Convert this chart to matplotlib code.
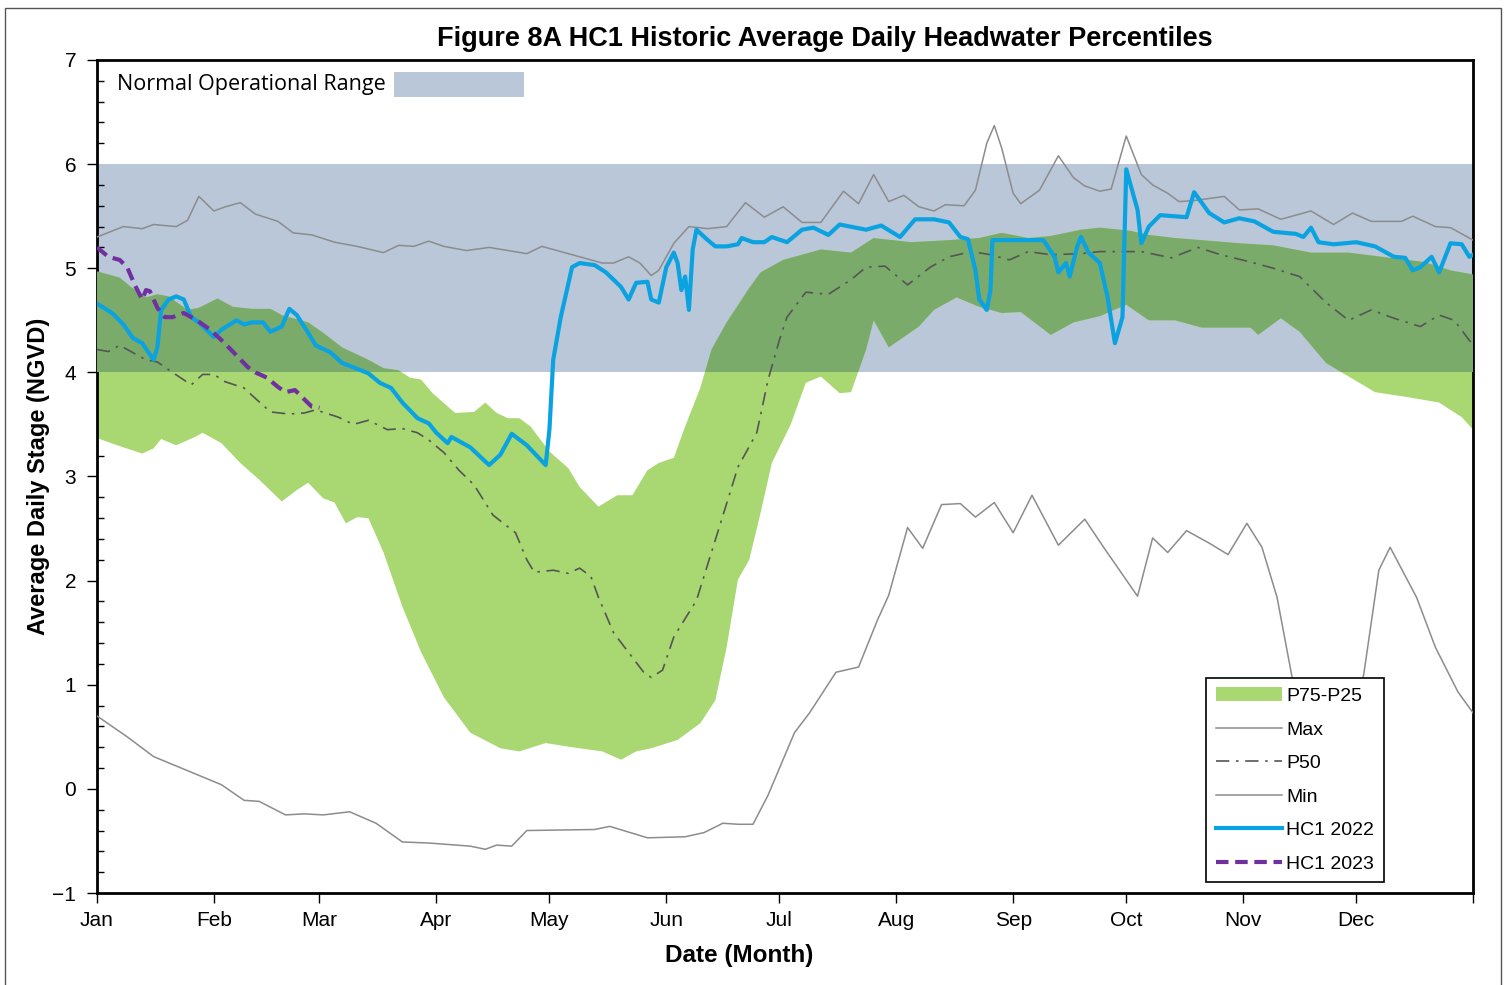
import numpy as np
import matplotlib
matplotlib.use("Agg")
import matplotlib.pyplot as plt
from matplotlib.patches import Rectangle
from matplotlib.ticker import MultipleLocator

plt.rcParams['font.family'] = ['Liberation Sans', 'DejaVu Sans']

# day of year -> stage (NGVD)
max_day = [0, 7, 12, 15, 21, 24, 27, 31, 34, 38, 42, 48, 52, 57, 63, 69, 76, 80, 84, 88, 92, 98, 104,
           114, 118, 123, 134, 137, 141, 144, 147, 149, 153, 157, 162, 167, 172, 177, 182, 187, 192,
           198, 202, 206, 210, 214, 218, 222, 225, 230, 233, 236, 238, 240, 243, 245, 250, 255, 259,
           262, 266, 269, 273, 277, 280, 284, 287, 291, 299, 303, 308, 314, 322, 328, 333, 338, 346,
           349, 355, 359, 365]
max_val = [5.30, 5.40, 5.38, 5.42, 5.40, 5.46, 5.69, 5.55, 5.59, 5.63, 5.52, 5.45, 5.34, 5.32, 5.25,
           5.21, 5.15, 5.22, 5.21, 5.26, 5.21, 5.17, 5.20, 5.14, 5.21, 5.16, 5.05, 5.05, 5.11, 5.05,
           4.93, 4.98, 5.24, 5.40, 5.38, 5.40, 5.63, 5.49, 5.59, 5.44, 5.44, 5.74, 5.62, 5.90, 5.64,
           5.70, 5.59, 5.55, 5.61, 5.60, 5.75, 6.20, 6.37, 6.15, 5.72, 5.62, 5.75, 6.08, 5.87, 5.79,
           5.74, 5.76, 6.27, 5.90, 5.80, 5.72, 5.64, 5.65, 5.69, 5.56, 5.57, 5.47, 5.55, 5.42, 5.53,
           5.45, 5.45, 5.50, 5.40, 5.39, 5.27]

min_day = [0, 8, 15, 27, 33, 39, 43, 50, 55, 60, 67, 74, 81, 88, 99, 103, 106, 110, 114, 132, 136,
           146, 156, 161, 166, 170, 174, 178, 185, 189, 196, 202, 207, 210, 215, 219, 224, 229, 233,
           238, 243, 248, 255, 262, 267, 276, 280, 284, 289, 295, 300, 305, 309, 313, 317, 322, 328,
           333, 336, 340, 343, 350, 355, 361, 365]
min_val = [0.70, 0.50, 0.31, 0.13, 0.04, -0.11, -0.12, -0.25, -0.24, -0.25, -0.22, -0.33, -0.51,
           -0.52, -0.55, -0.58, -0.54, -0.55, -0.40, -0.39, -0.36, -0.47, -0.46, -0.42, -0.33, -0.34,
           -0.34, -0.06, 0.54, 0.73, 1.12, 1.17, 1.62, 1.86, 2.51, 2.31, 2.73, 2.74, 2.61, 2.75, 2.46,
           2.82, 2.34, 2.59, 2.32, 1.85, 2.41, 2.27, 2.48, 2.36, 2.25, 2.55, 2.32, 1.84, 1.07, 0.60,
           0.40, 0.60, 1.10, 2.10, 2.32, 1.84, 1.36, 0.93, 0.73]

p75_day = [0, 6, 9, 13, 16, 19, 24, 27, 32, 36, 41, 46, 49, 56, 60, 65, 72, 76, 80, 83, 86, 89, 95,
           100, 103, 106, 109, 112, 115, 120, 125, 128, 133, 138, 142, 146, 149, 153, 156, 160, 163,
           167, 173, 176, 182, 192, 200, 206, 216, 226, 234, 240, 247, 253, 261, 266, 274, 279, 286,
           293, 303, 312, 322, 332, 343, 352, 359, 365]
p75_val = [4.97, 4.91, 4.82, 4.72, 4.75, 4.73, 4.60, 4.62, 4.71, 4.63, 4.61, 4.61, 4.55, 4.48, 4.38,
           4.24, 4.12, 4.04, 4.02, 3.95, 3.93, 3.80, 3.61, 3.62, 3.71, 3.61, 3.56, 3.56, 3.48, 3.24,
           3.08, 2.90, 2.71, 2.82, 2.82, 3.06, 3.13, 3.18, 3.48, 3.85, 4.22, 4.48, 4.81, 4.96, 5.08,
           5.18, 5.15, 5.29, 5.25, 5.27, 5.29, 5.34, 5.29, 5.31, 5.37, 5.39, 5.36, 5.32, 5.29, 5.27,
           5.24, 5.22, 5.15, 5.15, 5.10, 5.06, 4.98, 4.94]

p25_day = [0, 3, 7, 12, 15, 17, 21, 26, 28, 33, 38, 43, 49, 53, 56, 60, 63, 66, 69, 72, 76, 81, 86,
           92, 99, 107, 112, 119, 126, 134, 139, 143, 147, 154, 160, 164, 167, 170, 173, 176, 179,
           184, 188, 192, 197, 200, 204, 206, 210, 214, 218, 222, 228, 234, 240, 245, 253, 259, 266,
           273, 279, 286, 293, 301, 306, 308, 314, 319, 326, 332, 339, 348, 356, 362, 365]
p25_val = [3.37, 3.33, 3.28, 3.22, 3.27, 3.36, 3.30, 3.38, 3.42, 3.32, 3.13, 2.97, 2.76, 2.87, 2.94,
           2.79, 2.75, 2.55, 2.61, 2.60, 2.27, 1.75, 1.31, 0.88, 0.54, 0.39, 0.36, 0.44, 0.40, 0.36,
           0.28, 0.36, 0.39, 0.47, 0.63, 0.85, 1.36, 2.01, 2.20, 2.65, 3.13, 3.50, 3.90, 3.96, 3.80,
           3.81, 4.22, 4.50, 4.24, 4.34, 4.44, 4.60, 4.72, 4.63, 4.57, 4.58, 4.36, 4.48, 4.54, 4.65,
           4.50, 4.50, 4.43, 4.43, 4.43, 4.36, 4.52, 4.39, 4.09, 3.96, 3.81, 3.76, 3.71, 3.57, 3.45]

p50_day = [0, 3, 6, 9, 13, 16, 20, 25, 28, 31, 34, 39, 42, 46, 51, 55, 58, 64, 68, 72, 77, 81, 85,
           88, 92, 96, 100, 105, 111, 114, 116, 121, 125, 128, 131, 133, 137, 141, 145, 147, 150, 153,
           159, 164, 170, 175, 178, 181, 183, 188, 194, 200, 204, 209, 215, 221, 226, 232, 237, 242,
           247, 253, 261, 266, 277, 285, 292, 298, 306, 312, 319, 326, 332, 338, 344, 351, 356, 360,
           365]
p50_val = [4.22, 4.20, 4.26, 4.20, 4.12, 4.10, 4.00, 3.88, 3.98, 3.98, 3.91, 3.85, 3.75, 3.62, 3.60,
           3.61, 3.64, 3.57, 3.50, 3.54, 3.45, 3.46, 3.42, 3.35, 3.23, 3.06, 2.92, 2.63, 2.46, 2.20,
           2.08, 2.10, 2.07, 2.12, 2.04, 1.84, 1.50, 1.31, 1.12, 1.07, 1.14, 1.46, 1.81, 2.39, 3.09,
           3.42, 3.93, 4.31, 4.53, 4.77, 4.75, 4.89, 5.01, 5.02, 4.84, 5.01, 5.11, 5.16, 5.13, 5.08,
           5.16, 5.13, 5.14, 5.16, 5.16, 5.10, 5.20, 5.13, 5.06, 5.00, 4.92, 4.67, 4.50, 4.60, 4.52,
           4.44, 4.55, 4.50, 4.26]

hc22_day = [0, 4, 7, 9.5, 12, 15, 16, 17, 19, 21, 23, 25, 27, 31, 33, 37, 39, 41, 44, 46, 49, 51,
            53, 56, 58, 62, 65, 70, 72, 75, 78, 81, 85, 88, 90, 93, 94, 99, 104, 107, 110, 114, 119,
            120, 121, 123, 126, 128, 132, 135, 139, 141, 143, 146, 147, 149, 151, 153, 154, 155, 156,
            157, 158, 159, 162, 164, 167, 170, 171, 174, 177, 179, 183, 187, 190, 194, 197, 204, 208,
            213, 217, 222, 226, 229, 231, 233, 234, 236, 237, 237.5, 242, 247, 251, 254, 255, 257,
            258, 260, 261, 263, 266, 268, 270, 272, 273, 276, 277, 279, 282, 289, 291, 295, 299, 303,
            307, 312, 318, 320, 322, 324, 328, 334, 339, 344, 347, 349, 351, 354, 356, 359, 362, 364,
            365]
hc22_val = [4.66, 4.57, 4.46, 4.33, 4.28, 4.12, 4.24, 4.60, 4.70, 4.73, 4.70, 4.53, 4.48, 4.34, 4.41,
            4.50, 4.46, 4.48, 4.48, 4.39, 4.44, 4.61, 4.55, 4.38, 4.26, 4.19, 4.09, 4.02, 3.99, 3.90,
            3.85, 3.71, 3.56, 3.51, 3.42, 3.32, 3.38, 3.28, 3.11, 3.21, 3.41, 3.30, 3.11, 3.45, 4.12,
            4.53, 5.01, 5.05, 5.03, 4.96, 4.82, 4.70, 4.86, 4.87, 4.70, 4.67, 5.01, 5.15, 5.05, 4.79,
            4.92, 4.60, 5.18, 5.37, 5.27, 5.21, 5.21, 5.23, 5.29, 5.25, 5.25, 5.30, 5.25, 5.37, 5.39,
            5.32, 5.42, 5.37, 5.41, 5.30, 5.47, 5.47, 5.44, 5.30, 5.28, 4.98, 4.70, 4.60, 4.79, 5.27,
            5.27, 5.27, 5.27, 5.11, 4.96, 5.05, 4.92, 5.21, 5.30, 5.15, 5.05, 4.73, 4.28, 4.53, 5.95,
            5.56, 5.24, 5.40, 5.51, 5.49, 5.73, 5.53, 5.44, 5.48, 5.45, 5.35, 5.33, 5.30, 5.39, 5.25,
            5.23, 5.25, 5.21, 5.11, 5.10, 4.98, 5.01, 5.11, 4.96, 5.24, 5.23, 5.11, 5.13]

hc23_day = [0, 3, 6, 8, 10, 12, 13, 14, 16, 18, 20, 23, 26.5, 30, 33, 36, 40, 42, 45, 48, 50, 52.5,
            55, 57, 59]
hc23_val = [5.20, 5.11, 5.08, 5.01, 4.84, 4.70, 4.79, 4.78, 4.62, 4.53, 4.53, 4.57, 4.50, 4.41, 4.31,
            4.20, 4.05, 4.00, 3.95, 3.86, 3.81, 3.83, 3.74, 3.67, 3.66]

month_starts = [0, 31, 59, 90, 120, 151, 181, 212, 243, 273, 304, 334, 365]
month_labels = ['Jan', 'Feb', 'Mar', 'Apr', 'May', 'Jun', 'Jul', 'Aug', 'Sep', 'Oct', 'Nov', 'Dec', '']
range_low, range_high = 4, 6

band_col = '#b9c7d8'
green = '#a9d772'
dark_green = '#7bab6a'

fig = plt.figure(figsize=(15.09, 9.85), dpi=100)
ax = fig.add_axes([0.0643, 0.0934, 0.9119, 0.8457])

# normal operational range band
ax.axhspan(range_low, range_high, color=band_col, lw=0, zorder=1)

# P75-P25 area, darker where it overlaps the band
poly_x = np.r_[p75_day, p25_day[::-1]]
poly_y = np.r_[p75_val, p25_val[::-1]]
ax.fill(poly_x, poly_y, color=green, lw=0, zorder=2, label='P75-P25')
over = ax.fill(poly_x, poly_y, color=dark_green, lw=0, zorder=3)[0]
over.set_clip_path(Rectangle((0, range_low), 365, range_high - range_low, transform=ax.transData))

ax.plot(max_day, max_val, color='#8c8c8c', lw=1.1, zorder=4, label='Max')
ax.plot(p50_day, p50_val, color='#555555', lw=1.2, ls=(0, (8, 4, 1.5, 4)), zorder=4, label='P50')
ax.plot(min_day, min_val, color='#8c8c8c', lw=1.1, zorder=4, label='Min')
ax.plot(hc22_day, hc22_val, color='#0aa2e0', lw=3, zorder=5, label='HC1 2022')
ax.plot(hc23_day, hc23_val, color='#7030a0', lw=3, ls=(0, (3, 1.6)), zorder=6, label='HC1 2023')

ax.set_xlim(0, 365)
ax.set_ylim(-1, 7)
ax.set_xticks(month_starts)
ax.set_xticklabels(month_labels)
ax.yaxis.set_major_locator(MultipleLocator(1))
ax.yaxis.set_minor_locator(MultipleLocator(0.2))
ax.tick_params(axis='x', direction='out', length=7, width=1, labelsize=15, pad=6)
ax.tick_params(axis='y', which='major', direction='out', length=7, width=1, labelsize=15, pad=8)
ax.tick_params(axis='y', which='minor', direction='in', length=5, width=1)
for s in ax.spines.values():
    s.set_linewidth(2)
    s.set_color('black')

ax.set_title('Figure 8A HC1 Historic Average Daily Headwater Percentiles',
             fontsize=19.5, fontweight='bold', pad=10, x=0.529)
ax.set_xlabel('Date (Month)', fontsize=17.5, fontweight='bold', labelpad=10)
ax.xaxis.label.set_x(0.467)
ax.set_ylabel('Average Daily Stage (NGVD)', fontsize=17, fontweight='bold', labelpad=2)

ax.text(0.0145, 0.971, 'Normal Operational Range', transform=ax.transAxes, fontsize=15.5,
        family='Open Sans', va='center', ha='left', zorder=7)
ax.add_patch(Rectangle((0.216, 0.955), 0.094, 0.031, transform=ax.transAxes,
                       color=band_col, lw=0, zorder=7))

leg = ax.legend(loc='lower right', bbox_to_anchor=(0.942, 0.001), fontsize=14, frameon=True,
                fancybox=False, edgecolor='black', framealpha=1, handlelength=3.4,
                handletextpad=0.2, labelspacing=0.82, borderpad=0.5)
leg.get_frame().set_linewidth(1.2)
leg.set_zorder(10)

fig.patches.append(Rectangle((5 / 1509, -0.01), 1496 / 1509, 1 - 8 / 985 + 0.01,
                             transform=fig.transFigure, fill=False, edgecolor='#555555', lw=1))

fig.savefig('out.png', dpi=100)
